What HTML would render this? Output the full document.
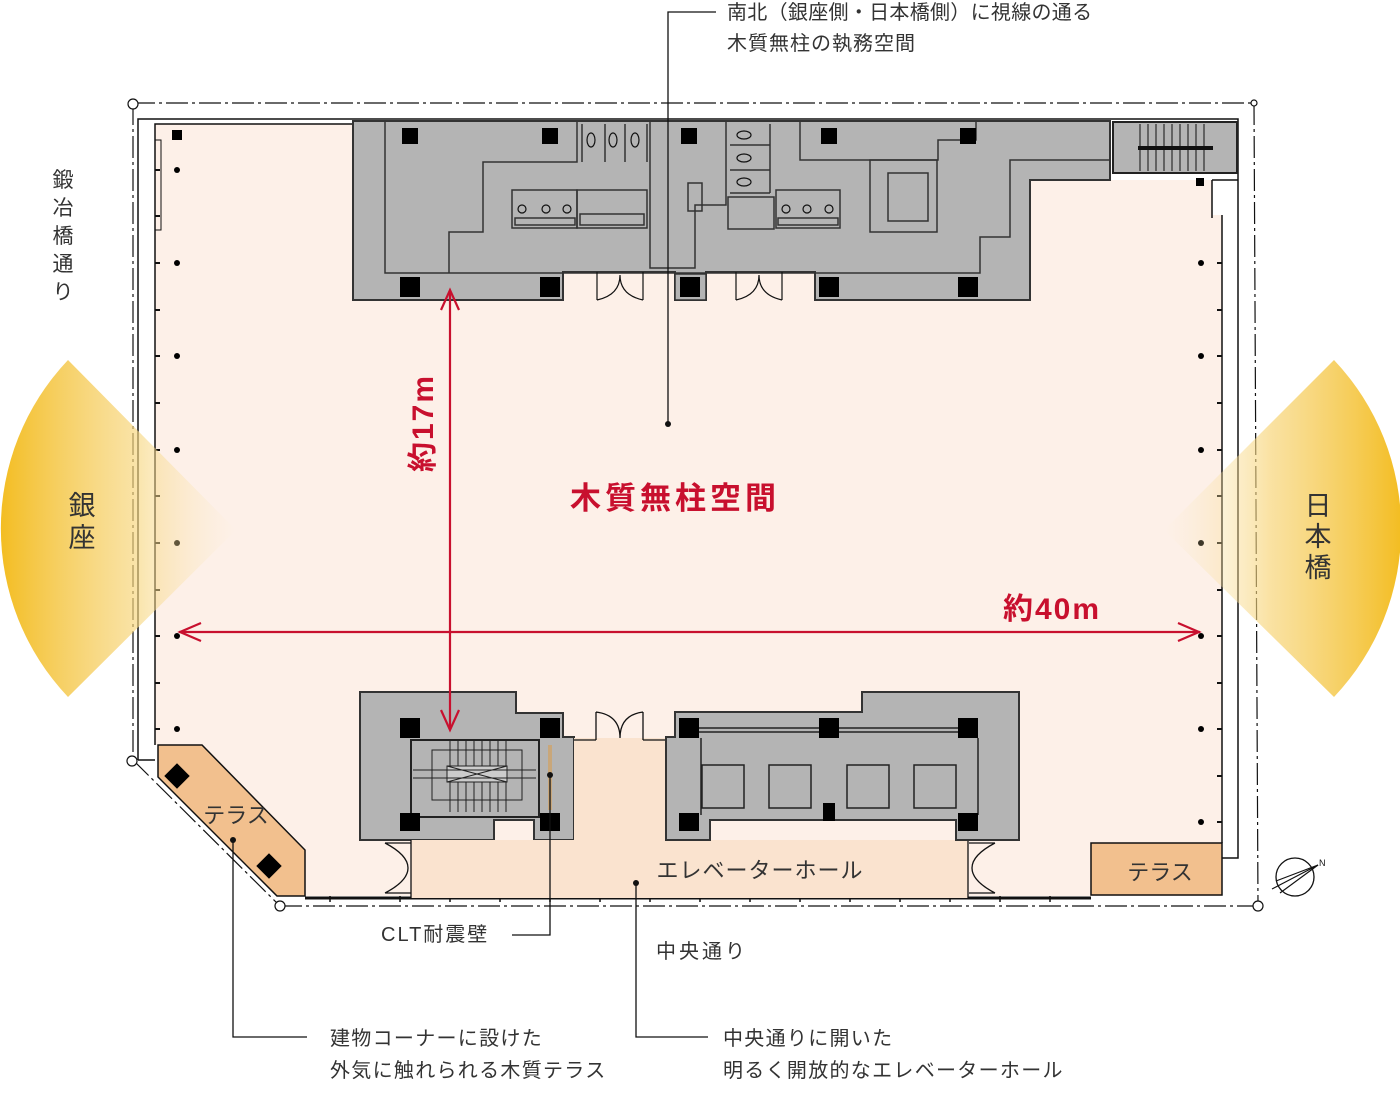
<!DOCTYPE html>
<html><head><meta charset="utf-8"><style>
html,body{margin:0;padding:0;background:#fff;}
svg{display:block;}
text{font-family:"Liberation Sans","Noto Sans CJK JP",sans-serif;}
</style></head><body>
<svg width="1400" height="1101" viewBox="0 0 1400 1101" xmlns="http://www.w3.org/2000/svg">
<defs>
<linearGradient id="gl" x1="0" y1="0" x2="1" y2="0" gradientUnits="objectBoundingBox">
<stop offset="0" stop-color="#f3bd22" stop-opacity="1"/>
<stop offset="0.55" stop-color="#f7d57a" stop-opacity="0.7"/>
<stop offset="1" stop-color="#fbe9c0" stop-opacity="0"/>
</linearGradient>
<linearGradient id="gr" x1="1" y1="0" x2="0" y2="0" gradientUnits="objectBoundingBox">
<stop offset="0" stop-color="#f3bd22" stop-opacity="1"/>
<stop offset="0.55" stop-color="#f7d57a" stop-opacity="0.7"/>
<stop offset="1" stop-color="#fbe9c0" stop-opacity="0"/>
</linearGradient>
</defs>

<!-- floor -->
<polygon points="155,124 1110,124 1110,180 1212,180 1212,215 1222,215 1222,896 305,896 305,850 202,745 155,745" fill="#fdf0e8"/>
<!-- outer walls -->
<g fill="none" stroke="#111" stroke-width="1.5">
<polyline points="138,760 138,119 1238,119 1238,858 1222,858"/>
<polyline points="155,745 155,124 1110,124"/>
<line x1="1222" y1="215" x2="1222" y2="843"/>
<line x1="1212" y1="180" x2="1212" y2="218"/>
<polyline points="1212,180 1238,180"/>
<line x1="305" y1="898" x2="1091" y2="898" stroke-width="3"/>
<line x1="138" y1="760" x2="155" y2="760"/>
</g>
<rect x="155" y="140" width="6" height="90" fill="none" stroke="#111"/>
<rect x="172" y="130" width="10" height="10" fill="#000"/>
<!-- dash-dot property line -->
<g fill="none" stroke="#111" stroke-width="1.2" stroke-dasharray="22,4,3,4">
<line x1="133" y1="103" x2="1254" y2="103"/>
<line x1="1254" y1="103" x2="1258" y2="906"/>
<line x1="280" y1="906" x2="1258" y2="906"/>
<line x1="133" y1="103" x2="133" y2="760"/>
<line x1="133" y1="760" x2="280" y2="906"/>
</g>
<g fill="#fff" stroke="#111" stroke-width="1.2">
<circle cx="133" cy="104" r="5"/><circle cx="1254" cy="103" r="3"/>
<circle cx="132" cy="761" r="5"/><circle cx="280" cy="906" r="5"/><circle cx="1258" cy="906" r="5"/>
</g>
<!-- wall ticks & column dots -->
<g stroke="#111" stroke-width="2">
<line x1="155" y1="170" x2="160" y2="170"/><line x1="155" y1="216" x2="160" y2="216"/>
<line x1="155" y1="263" x2="160" y2="263"/><line x1="155" y1="310" x2="160" y2="310"/>
<line x1="155" y1="356" x2="160" y2="356"/><line x1="155" y1="403" x2="160" y2="403"/>
<line x1="155" y1="450" x2="160" y2="450"/><line x1="155" y1="496" x2="160" y2="496"/>
<line x1="155" y1="543" x2="160" y2="543"/><line x1="155" y1="590" x2="160" y2="590"/>
<line x1="155" y1="636" x2="160" y2="636"/><line x1="155" y1="683" x2="160" y2="683"/>
<line x1="155" y1="729" x2="160" y2="729"/>
<line x1="1217" y1="263" x2="1222" y2="263"/><line x1="1217" y1="310" x2="1222" y2="310"/>
<line x1="1217" y1="356" x2="1222" y2="356"/><line x1="1217" y1="403" x2="1222" y2="403"/>
<line x1="1217" y1="450" x2="1222" y2="450"/><line x1="1217" y1="496" x2="1222" y2="496"/>
<line x1="1217" y1="543" x2="1222" y2="543"/><line x1="1217" y1="590" x2="1222" y2="590"/>
<line x1="1217" y1="636" x2="1222" y2="636"/><line x1="1217" y1="683" x2="1222" y2="683"/>
<line x1="1217" y1="729" x2="1222" y2="729"/><line x1="1217" y1="776" x2="1222" y2="776"/>
<line x1="1217" y1="822" x2="1222" y2="822"/>
</g>
<g fill="#000">
<circle cx="177" cy="170" r="3"/><circle cx="177" cy="263" r="3"/><circle cx="177" cy="356" r="3"/>
<circle cx="177" cy="450" r="3"/><circle cx="177" cy="543" r="3"/><circle cx="177" cy="636" r="3"/><circle cx="177" cy="729" r="3"/>
<circle cx="1201" cy="263" r="3"/><circle cx="1201" cy="356" r="3"/><circle cx="1201" cy="450" r="3"/>
<circle cx="1201" cy="543" r="3"/><circle cx="1201" cy="636" r="3"/><circle cx="1201" cy="729" r="3"/><circle cx="1201" cy="822" r="3"/>
<circle cx="1201" cy="183" r="3"/>
</g>
<g stroke="#111" stroke-width="1.5">
<line x1="330" y1="896" x2="330" y2="902"/><line x1="400" y1="896" x2="400" y2="902"/>
<line x1="450" y1="896" x2="450" y2="902"/><line x1="500" y1="896" x2="500" y2="902"/>
<line x1="550" y1="896" x2="550" y2="902"/><line x1="600" y1="896" x2="600" y2="902"/>
<line x1="650" y1="896" x2="650" y2="902"/><line x1="700" y1="896" x2="700" y2="902"/>
<line x1="750" y1="896" x2="750" y2="902"/><line x1="800" y1="896" x2="800" y2="902"/>
<line x1="850" y1="896" x2="850" y2="902"/><line x1="900" y1="896" x2="900" y2="902"/>
<line x1="950" y1="896" x2="950" y2="902"/><line x1="1000" y1="896" x2="1000" y2="902"/>
<line x1="1050" y1="896" x2="1050" y2="902"/>
</g>

<!-- top core -->
<polygon points="353,121 1110,121 1110,180 1030,180 1030,300 815,300 815,272 706,272 706,300 675,300 675,272 563,272 563,300 353,300" fill="#b4b4b4" stroke="#333" stroke-width="2"/>
<rect x="675" y="274" width="31" height="26" fill="#b4b4b4" stroke="#333" stroke-width="1.5"/>
<g fill="none" stroke="#333" stroke-width="1.5">
<polyline points="385,122 385,273 980,273 980,237 1010,237 1010,160 1110,160"/>
<polyline points="577,122 577,162 483,162 483,232 449,232 449,273"/>
<polyline points="650,122 650,156 650,268 695,268 695,205 726,205 726,122"/>
<polyline points="800,122 800,160 938,160 938,140 976,140 976,122"/>
<rect x="870" y="160" width="67" height="72"/>
<rect x="888" y="173" width="40" height="48"/>
<rect x="512" y="190" width="65" height="38"/><rect x="515" y="218" width="60" height="7"/>
<rect x="577" y="190" width="70" height="38"/><rect x="580" y="214" width="64" height="11"/>
<rect x="776" y="190" width="64" height="38"/><rect x="778" y="218" width="60" height="7"/>
<rect x="728" y="197" width="46" height="32"/>
<rect x="688" y="183" width="14" height="28"/>
<line x1="582" y1="124" x2="582" y2="162"/><line x1="605" y1="124" x2="605" y2="162"/><line x1="625" y1="124" x2="625" y2="162"/><line x1="647" y1="124" x2="647" y2="162"/>
<line x1="730" y1="145" x2="770" y2="145"/><line x1="730" y1="170" x2="770" y2="170"/><line x1="730" y1="193" x2="770" y2="193"/>
<line x1="770" y1="124" x2="770" y2="193"/>
</g>
<g fill="none" stroke="#111" stroke-width="1.2">
<circle cx="522" cy="209" r="4"/><circle cx="546" cy="209" r="4"/><circle cx="567" cy="209" r="4"/>
<circle cx="786" cy="209" r="4"/><circle cx="807" cy="209" r="4"/><circle cx="829" cy="209" r="4"/>
<ellipse cx="591" cy="140" rx="4" ry="7"/><ellipse cx="613" cy="140" rx="4" ry="7"/><ellipse cx="635" cy="140" rx="4" ry="7"/>
<ellipse cx="744" cy="135" rx="7" ry="4"/><ellipse cx="744" cy="158" rx="7" ry="4"/><ellipse cx="744" cy="182" rx="7" ry="4"/>
<path d="M597,300 V272 M643,300 V272 M597,300 Q620,295 620,275 Q620,295 643,300"/>
<path d="M736,300 V272 M782,300 V272 M736,300 Q759,295 759,275 Q759,295 782,300"/>
</g>
<g fill="#000">
<rect x="402" y="128" width="16" height="16"/><rect x="542" y="128" width="16" height="16"/><rect x="681" y="128" width="16" height="16"/>
<rect x="821" y="128" width="16" height="16"/><rect x="960" y="128" width="16" height="16"/>
<rect x="400" y="277" width="20" height="20"/><rect x="540" y="277" width="20" height="20"/><rect x="680" y="277" width="20" height="20"/>
<rect x="819" y="277" width="20" height="20"/><rect x="958" y="277" width="20" height="20"/>
</g>
<!-- right stair -->
<rect x="1113" y="122" width="124" height="51" fill="#b4b4b4" stroke="#222" stroke-width="2"/>
<g stroke="#111" stroke-width="1">
<line x1="1140" y1="124" x2="1140" y2="171"/><line x1="1148" y1="124" x2="1148" y2="171"/><line x1="1156" y1="124" x2="1156" y2="171"/>
<line x1="1164" y1="124" x2="1164" y2="171"/><line x1="1172" y1="124" x2="1172" y2="171"/><line x1="1180" y1="124" x2="1180" y2="171"/>
<line x1="1188" y1="124" x2="1188" y2="171"/><line x1="1196" y1="124" x2="1196" y2="171"/><line x1="1204" y1="124" x2="1204" y2="171"/>
</g>
<line x1="1138" y1="148" x2="1213" y2="148" stroke="#111" stroke-width="4"/>
<rect x="1196" y="178" width="8" height="8" fill="#000"/>

<!-- bottom left core -->
<polygon points="360,692 516,692 516,713 563,713 563,737 574,737 574,840 534,840 534,820 494,820 494,840 360,840" fill="#b4b4b4" stroke="#333" stroke-width="2"/>
<rect x="411" y="740" width="128" height="77" fill="#b4b4b4" stroke="#222" stroke-width="2"/>
<g stroke="#222" stroke-width="1">
<line x1="450" y1="740" x2="450" y2="812"/><line x1="458" y1="740" x2="458" y2="812"/><line x1="466" y1="740" x2="466" y2="812"/>
<line x1="474" y1="740" x2="474" y2="812"/><line x1="482" y1="740" x2="482" y2="812"/><line x1="490" y1="740" x2="490" y2="812"/>
<line x1="498" y1="740" x2="498" y2="812"/><line x1="506" y1="740" x2="506" y2="812"/>
<rect x="432" y="750" width="90" height="50" fill="none"/>
<rect x="447" y="766" width="60" height="16" fill="#ccc"/>
<line x1="447" y1="766" x2="507" y2="782"/><line x1="447" y1="782" x2="507" y2="766"/>
<line x1="413" y1="770" x2="536" y2="770"/><line x1="413" y1="778" x2="536" y2="778"/>
</g>
<rect x="548" y="745" width="4" height="65" fill="#c9a77a"/>
<g fill="#000">
<rect x="400" y="718" width="20" height="20"/><rect x="540" y="718" width="20" height="20"/>
<rect x="400" y="813" width="20" height="18"/><rect x="540" y="813" width="20" height="18"/>
</g>
<!-- elevator hall -->
<polygon points="574,738 666,738 666,840 968,840 968,898 411,898 411,840 574,840" fill="#fae3cf"/>
<g fill="none" stroke="#111" stroke-width="1.3">
<line x1="411" y1="840" x2="411" y2="898"/><line x1="968" y1="840" x2="968" y2="898"/>
<line x1="574" y1="740" x2="596" y2="740"/><line x1="643" y1="740" x2="666" y2="740"/>
<path d="M596,740 V712 M643,740 V712 M596,712 Q620,715 620,738 Q620,715 643,712"/>
<path d="M385,843 H411 M385,893 H411 M385,843 Q408,855 408,868 Q408,881 385,893"/>
<path d="M995,843 H969 M995,893 H969 M995,843 Q972,855 972,868 Q972,881 995,893"/>
</g>
<!-- bottom right core -->
<polygon points="666,737 675,737 675,712 862,712 862,692 1019,692 1019,840 956,840 956,820 710,820 710,840 666,840" fill="#b4b4b4" stroke="#333" stroke-width="2"/>
<g fill="none" stroke="#222" stroke-width="1.5">
<line x1="689" y1="728" x2="968" y2="728"/><line x1="689" y1="732" x2="968" y2="732"/>
<line x1="701" y1="738" x2="701" y2="815"/><line x1="978" y1="738" x2="978" y2="815"/>
<rect x="702" y="765" width="42" height="43"/><rect x="769" y="765" width="42" height="43"/>
<rect x="847" y="765" width="42" height="43"/><rect x="914" y="765" width="42" height="43"/>
</g>
<g fill="#000">
<rect x="679" y="718" width="20" height="20"/><rect x="819" y="718" width="20" height="20"/><rect x="958" y="718" width="20" height="20"/>
<rect x="679" y="813" width="20" height="18"/><rect x="958" y="813" width="20" height="18"/>
<rect x="823" y="803" width="12" height="18"/>
</g>

<!-- terraces -->
<polygon points="158,745 202,745 305,850 305,896 277,896 158,777" fill="#f2c08e" stroke="#111" stroke-width="1.5"/>
<rect x="168" y="767" width="18" height="18" fill="#000" transform="rotate(45 177 776)"/>
<rect x="260" y="857" width="18" height="18" fill="#000" transform="rotate(45 269 866)"/>
<rect x="1091" y="843" width="131" height="52" fill="#f2c08e" stroke="#111" stroke-width="1.5"/>
<text x="236" y="823" font-size="22" fill="#333" text-anchor="middle">テラス</text>
<text x="1160" y="880" font-size="22" fill="#333" text-anchor="middle">テラス</text>
<text x="760" y="878" font-size="22" fill="#333" text-anchor="middle" letter-spacing="1">エレベーターホール</text>

<!-- compass -->
<circle cx="1295" cy="877" r="19" fill="none" stroke="#111" stroke-width="1.3"/>
<g stroke="#111" stroke-width="1.2"><line x1="1272" y1="889" x2="1318" y2="865"/><line x1="1276" y1="881" x2="1318" y2="865"/><line x1="1280" y1="893" x2="1318" y2="865"/></g>
<text x="1319" y="866" font-size="9" fill="#111">N</text>

<!-- sectors -->
<path d="M72,360 A245,245 0 0 0 72,697 L240,530 Z" fill="url(#gl)" transform="translate(-4,0)"/>
<path d="M1330,360 A245,245 0 0 1 1330,697 L1160,530 Z" fill="url(#gr)" transform="translate(4,0)"/>

<!-- red arrows -->
<g stroke="#c8102e" stroke-width="2.2" fill="none">
<line x1="450" y1="292" x2="450" y2="728"/>
<polyline points="441,310 450,290 459,310"/>
<polyline points="441,710 450,730 459,710"/>
<line x1="179" y1="632" x2="1200" y2="632"/>
<polyline points="201,623 180,632 201,641"/>
<polyline points="1178,623 1199,632 1178,641"/>
</g>
<text x="0" y="0" font-size="30" font-weight="bold" fill="#c8102e" letter-spacing="2" transform="translate(433,472) rotate(-90)">約17m</text>
<text x="1003" y="619" font-size="30" font-weight="bold" fill="#c8102e" letter-spacing="2">約40m</text>
<text x="675" y="509" font-size="31" font-weight="bold" fill="#c8102e" text-anchor="middle" letter-spacing="4">木質無柱空間</text>

<!-- side labels -->
<g font-size="21" fill="#333" text-anchor="middle">
<text x="63" y="187">鍛</text><text x="63" y="215">冶</text><text x="63" y="243">橋</text><text x="63" y="271">通</text><text x="63" y="299">り</text>
</g>
<g font-size="27" fill="#333" text-anchor="middle">
<text x="82" y="515">銀</text><text x="82" y="547">座</text>
<text x="1318" y="515">日</text><text x="1318" y="546">本</text><text x="1318" y="577">橋</text>
</g>

<!-- leaders -->
<g stroke="#111" stroke-width="1.3" fill="none">
<polyline points="716,12 668,12 668,424"/>
<polyline points="550,775 550,935 512,935"/>
<polyline points="233,840 233,1037 307,1037"/>
<polyline points="636,883 636,1037 708,1037"/>
</g>
<g fill="#111"><circle cx="668" cy="424" r="3"/><circle cx="550" cy="775" r="3"/><circle cx="233" cy="840" r="3"/><circle cx="636" cy="883" r="3"/></g>
<g font-size="20" fill="#333">
<text x="727" y="19" letter-spacing="0.3">南北（銀座側・日本橋側）に視線の通る</text>
<text x="727" y="50" letter-spacing="1">木質無柱の執務空間</text>
<text x="381" y="941" letter-spacing="2">CLT耐震壁</text>
<text x="656" y="958" letter-spacing="3">中央通り</text>
<text x="330" y="1045" letter-spacing="1.3">建物コーナーに設けた</text>
<text x="330" y="1077" letter-spacing="1.3">外気に触れられる木質テラス</text>
<text x="723" y="1045" letter-spacing="1.3">中央通りに開いた</text>
<text x="723" y="1077" letter-spacing="1.3">明るく開放的なエレベーターホール</text>
</g>
</svg>
</body></html>
